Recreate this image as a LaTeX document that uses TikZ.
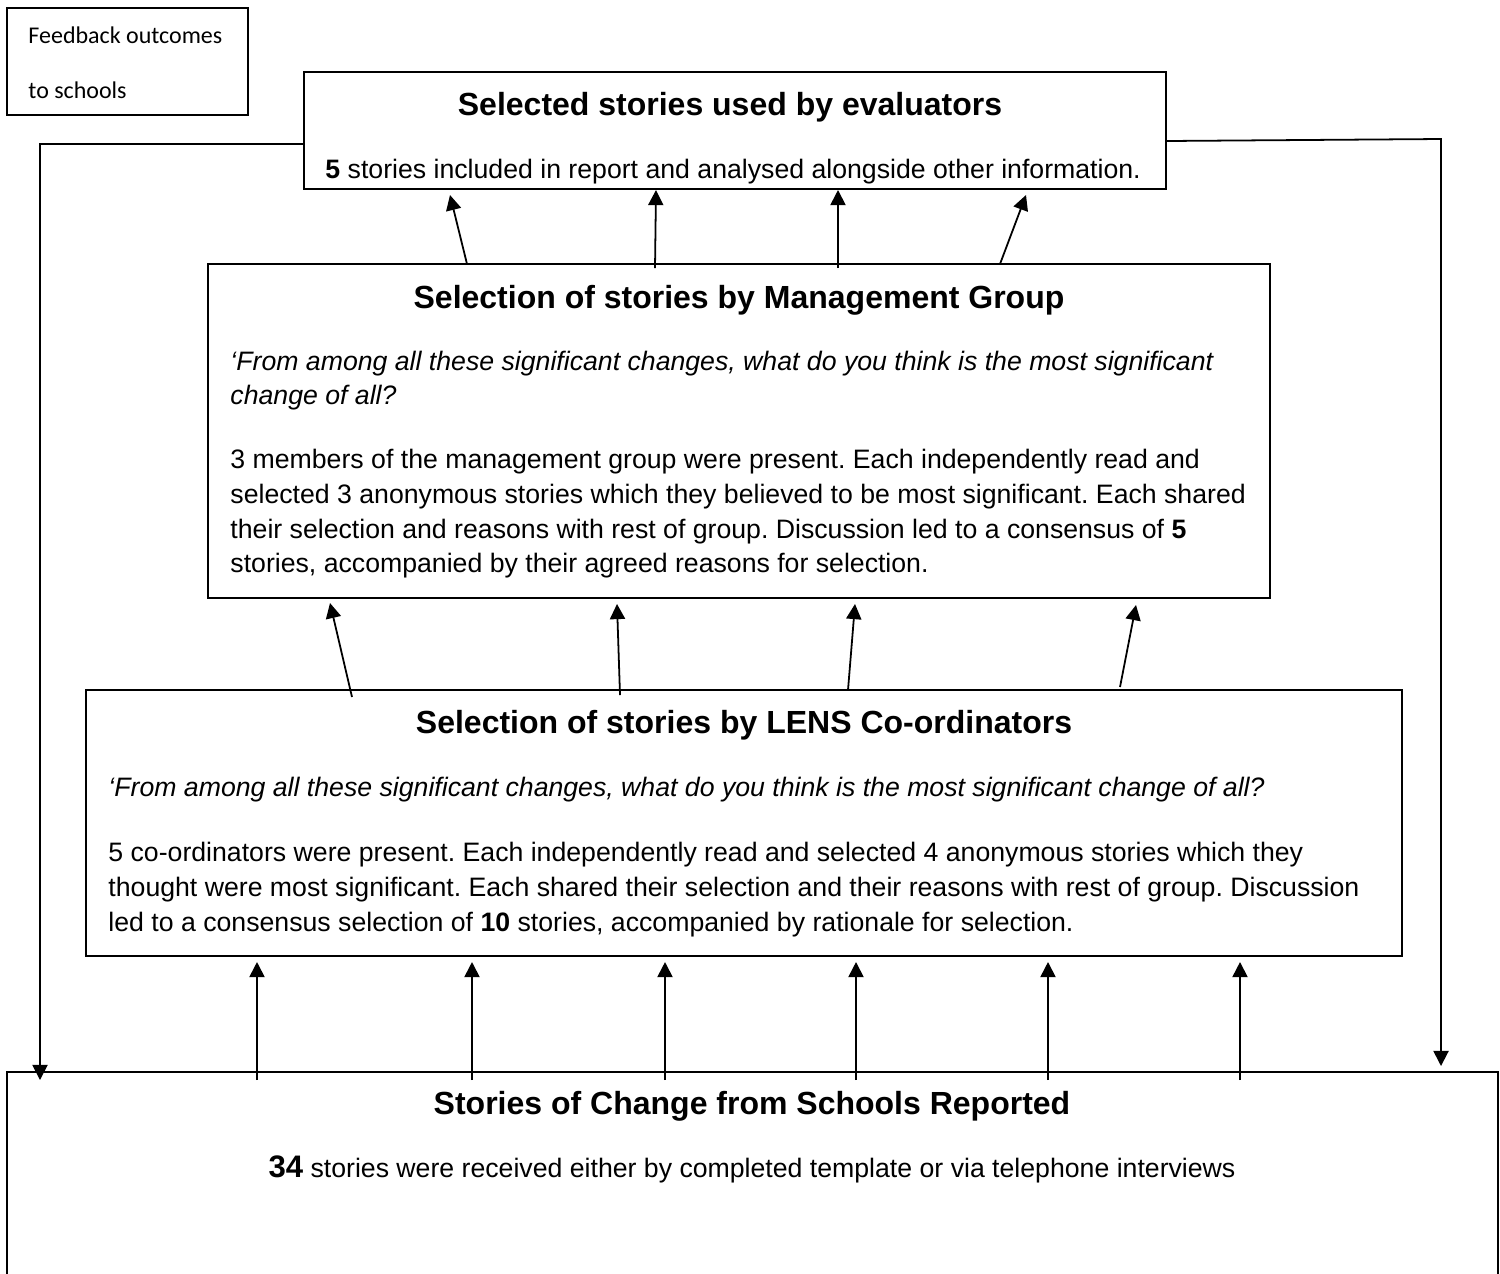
\documentclass[tikz,border=0pt]{standalone}
\usepackage{fontspec}
\setmainfont{Liberation Sans}
\newfontfamily\calibrifont{Carlito}
\usetikzlibrary{arrows.meta}
\frenchspacing
\begin{document}
\frenchspacing
\begin{tikzpicture}[x=0.45pt,y=-0.45pt,
  box/.style={draw, rectangle, inner sep=0pt, outer sep=0pt, anchor=north west, line width=0.9pt},
  arr/.style={-{Triangle[length=6.8pt,width=6.8pt]}, line width=0.8pt},
  ttl/.style={font=\fontsize{14.4}{17}\selectfont\bfseries, anchor=base, inner sep=0pt},
  txt/.style={font=\fontsize{12}{14}\selectfont, anchor=base west, inner sep=0pt},
  ctx/.style={font=\fontsize{12}{14}\selectfont, anchor=base, inner sep=0pt},
  itx/.style={font=\fontsize{12}{14}\selectfont\itshape, anchor=base west, inner sep=0pt},
  fbt/.style={font=\calibrifont\fontsize{10.8}{13}\selectfont, anchor=base west, inner sep=0pt}]
\useasboundingbox (0,0) rectangle (1500,1273);

% boxes
\node[box, minimum width=108.45pt, minimum height=48.15pt] (fb) at (7,8) {};
\node[box, minimum width=387.9pt, minimum height=52.65pt] (b1) at (304,72) {};
\node[box, minimum width=477.9pt, minimum height=150.3pt] (b2) at (208,264) {};
\node[box, minimum width=592.2pt, minimum height=119.7pt] (b3) at (86,690) {};
\node[box, minimum width=670.95pt, minimum height=98.1pt] (b4) at (7,1072) {};

% feedback box text
\node[fbt] (fb1) at (28,43) {Feedback outcomes};
\node[fbt] (fb2) at (28,98) {to schools};

% box 1 text
\node[ttl] (t1) at (730,115) {Selected stories used by evaluators};
\node[txt] (l11) at (325,178) {\textbf{5} stories included in report and analysed alongside other information.};

% box 2 text
\node[ttl] (t2) at (739,308) {Selection of stories by Management Group};
\node[itx] (l21) at (230,370) {‘From among all these significant changes, what do you think is the most significant};
\node[itx] (l22) at (230,404) {change of all?};
\node[txt] (l23) at (230,468) {3 members of the management group were present. Each independently read and};
\node[txt] (l24) at (230,503) {selected 3 anonymous stories which they believed to be most significant. Each shared};
\node[txt] (l25) at (230,538) {their selection and reasons with rest of group. Discussion led to a consensus of \textbf{5}};
\node[txt] (l26) at (230,572) {stories, accompanied by their agreed reasons for selection.};

% box 3 text
\node[ttl] (t3) at (744,733) {Selection of stories by LENS Co-ordinators};
\node[itx] (l31) at (108,796) {‘From among all these significant changes, what do you think is the most significant change of all?};
\node[txt] (l32) at (108,861) {5 co-ordinators were present. Each independently read and selected 4 anonymous stories which they};
\node[txt] (l33) at (108,896) {thought were most significant. Each shared their selection and their reasons with rest of group. Discussion};
\node[txt] (l34) at (108,931) {led to a consensus selection of \textbf{10} stories, accompanied by rationale for selection.};

% box 4 text
\node[ttl] (t4) at (752,1114) {Stories of Change from Schools Reported};
\node[ctx] (l41) at (752,1177) {{\fontsize{14}{16}\selectfont\bfseries 34} stories were received either by completed template or via telephone interviews};

% feedback loop connectors
\coordinate (lh) at (0,144);
\coordinate (lt) at (40,1080);
\draw[arr] (b1.west |- lh) -| (lt);
\coordinate (rh) at (0,141);
\coordinate (rc) at (1441,139);
\coordinate (rt) at (1441,1066);
\draw[arr] (b1.east |- rh) -- (rc) -- (rt);

% box 2 -> box 1
\coordinate (s21) at (467,264); \coordinate (e21) at (450,195);
\coordinate (s22) at (655,268); \coordinate (e22) at (656,190);
\coordinate (s23) at (838,268); \coordinate (e23) at (838,190);
\coordinate (s24) at (1000,264); \coordinate (e24) at (1026,195);
\foreach \i in {1,...,4} \draw[arr] (s2\i) -- (e2\i);

% box 3 -> box 2
\coordinate (s31) at (352,697); \coordinate (e31) at (330,603);
\coordinate (s32) at (620,695); \coordinate (e32) at (617,604);
\coordinate (s33) at (848,690); \coordinate (e33) at (855,604);
\coordinate (s34) at (1120,687); \coordinate (e34) at (1136,605);
\foreach \i in {1,...,4} \draw[arr] (s3\i) -- (e3\i);

% box 4 -> box 3
\foreach \x [count=\i] in {257,472,665,856,1048,1240} {
  \coordinate (s4\i) at (\x,1080);
  \coordinate (e4\i) at (\x,962);
  \draw[arr] (s4\i) -- (e4\i);
}
\end{tikzpicture}
\end{document}
